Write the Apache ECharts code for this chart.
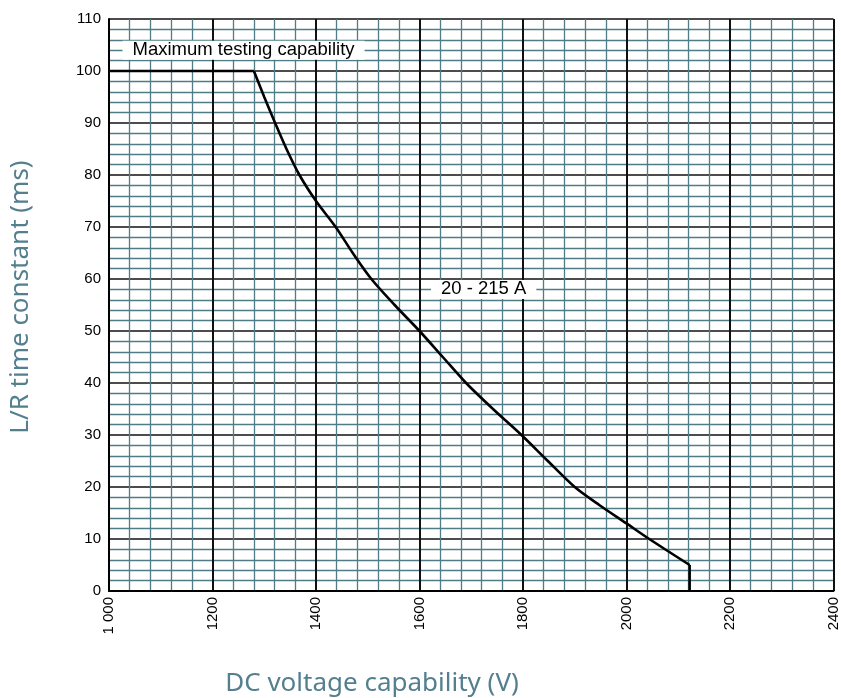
<!DOCTYPE html>
<html>
<head>
<meta charset="utf-8">
<script src="https://cdn.jsdelivr.net/npm/echarts@6/dist/echarts.min.js"></script>
<style>
html,body{margin:0;padding:0;background:#fff;}
#chart{width:841px;height:698px;}
</style>
</head>
<body>
<div id="chart"></div>
<script>
// Curve: DC voltage (V) vs L/R time constant (ms)
const voltage = [1000, 1280, 1300, 1321, 1343, 1368, 1400, 1438, 1471, 1507, 1552, 1600, 1645, 1690, 1742, 1797, 1848, 1900, 1948, 2000, 2044, 2122, 2122];
const timeConst = [100, 100, 95, 90, 85, 80, 75, 70, 65, 60, 55, 50, 45, 40, 35, 30, 25, 20, 16.5, 13, 10, 5, 0];

// Annotations (data coordinates)
const noteTexts = ['Maximum testing capability', '20 - 215 A'];
const noteX = [1260, 1724];
const noteY = [104, 58];

const xTitle = 'DC voltage capability (V)';
const yTitle = 'L/R time constant (ms)';

const chart = echarts.init(document.getElementById('chart'), null, {renderer: 'canvas'});
const teal = '#4f7c86';
const titleColor = '#547f8f';

const pts = voltage.map((v, i) => [v, timeConst[i]]);
const n = pts.length;
const lineBase = {type: 'line', showSymbol: false, symbol: 'none', lineStyle: {color: '#000', width: 2.6}, z: 5};

chart.setOption({
  animation: false,
  backgroundColor: '#fff',
  grid: {left: 109, right: 6, top: 19, bottom: 107, containLabel: false},
  xAxis: {
    type: 'value', min: 1000, max: 2400, interval: 200,
    axisLine: {show: true, lineStyle: {color: '#000', width: 2}},
    axisTick: {show: false},
    axisLabel: {
      rotate: 90, margin: 6, color: '#000', fontFamily: 'Liberation Sans, Arial, sans-serif', fontSize: 15,
      formatter: v => v === 1000 ? '1 000' : String(v)
    },
    splitLine: {show: true, lineStyle: {color: '#111', width: 2}},
    minorTick: {show: false, splitNumber: 5},
    minorSplitLine: {show: true, lineStyle: {color: teal, width: 1.3}}
  },
  yAxis: {
    type: 'value', min: 0, max: 110, interval: 10,
    axisLine: {show: true, lineStyle: {color: '#000', width: 2}},
    axisTick: {show: false},
    axisLabel: {margin: 8, color: '#000', fontFamily: 'Liberation Sans, Arial, sans-serif', fontSize: 15},
    splitLine: {show: true, lineStyle: {color: '#111', width: 1.5}},
    minorTick: {show: false, splitNumber: 5},
    minorSplitLine: {show: true, lineStyle: {color: teal, width: 1.3}}
  },
  series: [
    Object.assign({}, lineBase, {
      data: pts.slice(0, 2),
      markPoint: {
        symbol: 'rect', symbolSize: 0,
        label: {
          show: true, position: 'inside', color: '#000',
          fontFamily: 'Liberation Sans, Arial, sans-serif', fontSize: 18.5,
          backgroundColor: '#fff', padding: [1, 10, 0, 10], lineHeight: 18,
          formatter: p => p.name
        },
        data: noteTexts.map((t, i) => ({name: t, coord: [noteX[i], noteY[i]], value: t}))
      }
    }),
    Object.assign({}, lineBase, {data: pts.slice(1, n - 1), smooth: 0.3}),
    Object.assign({}, lineBase, {data: pts.slice(n - 2)})
  ],
  graphic: [
    {type: 'text', x: 372, y: 684,
     style: {text: xTitle, fill: titleColor, font: '26px "Noto Sans", sans-serif', textAlign: 'center', textVerticalAlign: 'middle'}},
    {type: 'text', x: 21, y: 297, rotation: Math.PI / 2,
     style: {text: yTitle, fill: titleColor, font: '26px "Noto Sans", sans-serif', textAlign: 'center', textVerticalAlign: 'middle'}}
  ]
});
</script>
</body>
</html>
